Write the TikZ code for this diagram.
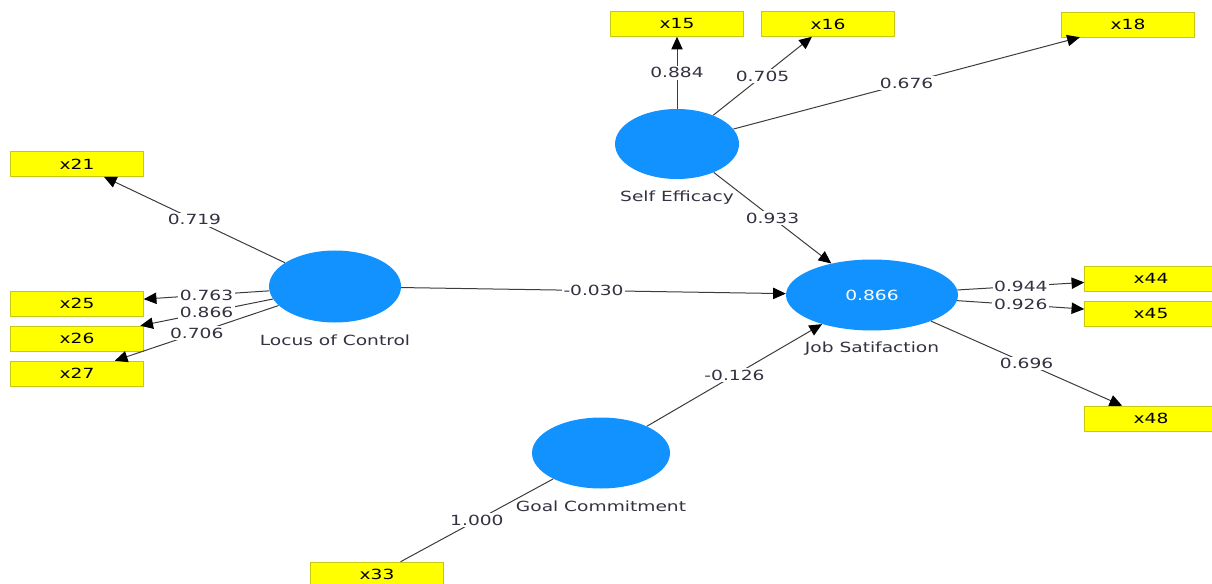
\documentclass[tikz,border=0pt]{standalone}
\usepackage{fontspec}
\setmainfont{DejaVu Sans}[FakeStretch=1.33]
\usetikzlibrary{arrows.meta,shapes.geometric}

\begin{document}
\begin{tikzpicture}[x=0.75pt,y=-0.75pt,node distance=40pt]
    \definecolor{lvblue}{RGB}{18,146,255}
    \definecolor{mvyellow}{RGB}{255,255,0}
    \definecolor{mvborder}{RGB}{200,200,20}
    \definecolor{linkgray}{RGB}{60,60,60}
    \definecolor{coeftext}{RGB}{50,50,65}

    \fontsize{10.5pt}{12pt}\selectfont  % 字体大小
    \tikzstyle{latent}=[ellipse,fill=lvblue,inner sep=0pt]  % 潜变量:蓝色椭圆
    \tikzstyle{indicator}=[rectangle,draw=mvborder,thin,fill=mvyellow,minimum width=99.75pt,minimum height=18.75pt,inner sep=0pt]  % 指标:黄色矩形
    \tikzstyle{lvname}=[text=coeftext]
    \tikzstyle{coef}=[fill=white,inner sep=1.2pt,text=coeftext,pos=0.5]  % 线上的系数
    \tikzstyle{lvline}=[draw=linkgray,line width=0.75pt]
    \tikzstyle{lvlink}=[lvline,-{Triangle[length=9.5pt,width=8.5pt,color=black]}]

    \useasboundingbox (0,0) rectangle (1212,584);

    % 潜变量
    \node[latent,minimum width=93pt,minimum height=52.5pt](se) at (677,144){};
    \node[lvname,below of=se](selabel){Self Efficacy};
    \node[latent,minimum width=99pt,minimum height=54pt](lc) at (335,286.5){};
    \node[lvname,below of=lc](lclabel){Locus of Control};
    \node[latent,minimum width=129pt,minimum height=53.25pt,text=white](js) at (872,295){0.866};
    \node[lvname,below of=js](jslabel){Job Satifaction};
    \node[latent,minimum width=103.5pt,minimum height=53.25pt](gc) at (601,453){};
    \node[lvname,below of=gc](gclabel){Goal Commitment};

    % 指标
    \node[indicator](x15) at (677,24){x15};
    \node[indicator,right of=x15,node distance=113.25pt](x16){x16};
    \node[indicator](x18) at (1128,24.5){x18};
    \node[indicator](x21) at (77,164){x21};
    \node[indicator](x25) at (77,303.5){x25};
    \node[indicator,below of=x25,node distance=26.25pt](x26){x26};
    \node[indicator,below of=x26,node distance=26.25pt](x27){x27};
    \node[indicator](x33) at (377,574.5){x33};
    \node[indicator](x44) at (1151,278.5){x44};
    \node[indicator,below of=x44,node distance=26.25pt](x45){x45};
    \node[indicator](x48) at (1151,418.5){x48};

    % 开始画线
    \draw[lvlink](se)--node[coef]{0.884}(x15);
    \draw[lvlink](se)--node[coef]{0.705}(x16);
    \draw[lvlink](se)--node[coef]{0.676}(x18);
    \draw[lvlink](se)--node[coef]{0.933}(js);
    \draw[lvlink](lc)--node[coef]{0.719}(x21);
    \draw[lvlink](lc)--node[coef]{0.763}(x25);
    \draw[lvlink](lc)--node[coef]{0.866}(x26);
    \draw[lvlink](lc)--node[coef]{0.706}(x27);
    \draw[lvlink](lc)--node[coef]{-0.030}(js);
    \draw[lvlink](gc)--node[coef]{-0.126}(js);
    \draw[lvline](gc)--node[coef]{1.000}(x33);
    \draw[lvlink](js)--node[coef]{0.944}(x44);
    \draw[lvlink](js)--node[coef]{0.926}(x45);
    \draw[lvlink](js)--node[coef]{0.696}(x48);
\end{tikzpicture}
\end{document}
